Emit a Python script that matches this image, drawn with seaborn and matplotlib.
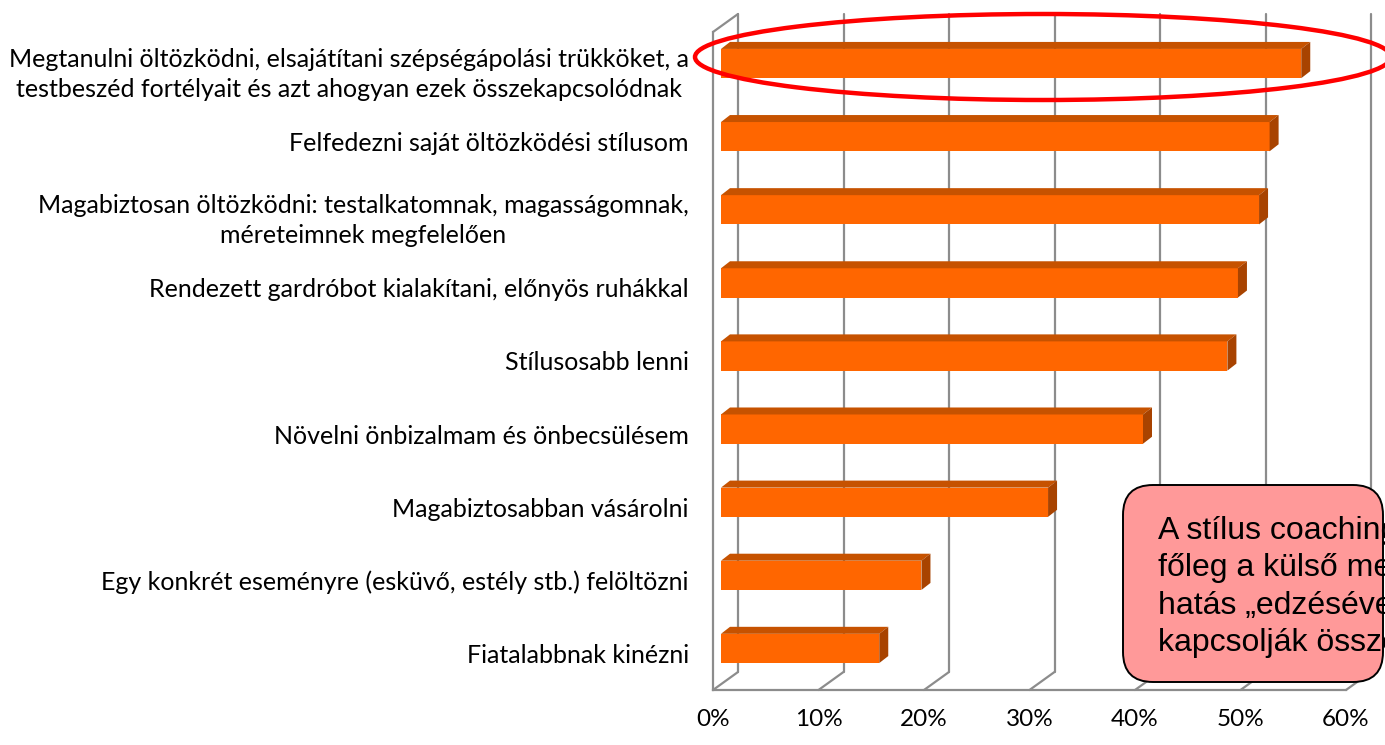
import numpy as np
import pandas as pd
import matplotlib
matplotlib.use("Agg")
import matplotlib.pyplot as plt
import matplotlib.transforms as mtransforms
from matplotlib.patches import Polygon, Ellipse, FancyBboxPatch
from matplotlib.ticker import PercentFormatter
import seaborn as sns

# --- data ---
categories = [
    "Megtanulni öltözködni, elsajátítani szépségápolási trükköket, a\n"
    "testbeszéd fortélyait és azt ahogyan ezek összekapcsolódnak",
    "Felfedezni saját öltözködési stílusom",
    "Magabiztosan öltözködni: testalkatomnak, magasságomnak,\n"
    "méreteimnek megfelelően",
    "Rendezett gardróbot kialakítani, előnyös ruhákkal",
    "Stílusosabb lenni",
    "Növelni önbizalmam és önbecsülésem",
    "Magabiztosabban vásárolni",
    "Egy konkrét eseményre (esküvő, estély stb.) felöltözni",
    "Fiatalabbnak kinézni",
]
values = [0.55, 0.52, 0.51, 0.49, 0.48, 0.40, 0.31, 0.19, 0.15]
x_ticks = [0.0, 0.1, 0.2, 0.3, 0.4, 0.5, 0.6]
callout_lines = [
    "A stílus coachingot",
    "főleg a külső megjelenés",
    "hatás „edzésével”",
    "kapcsolják össze",
]

# --- geometry (pixels) ---
W, H = 1385, 745
AX_LEFT, AX_TOP, AX_BOTTOM = 713, 32, 690
PX_PER_UNIT = 1055          # pixels for 100 %
XMAX = 0.6
N = len(categories)
CAT_PX = (AX_BOTTOM - AX_TOP) / N
WALL_DX, WALL_DY = 25, 18   # depth of the back wall
BAR_DX, BAR_DY = 8, 5       # bar front face shift
TOP_DX, TOP_DY = 9, 7       # bar depth

GREY = "#8C8C8C"
FRONT = "#FF6600"
TOPC = "#C65200"
SIDEC = "#A84300"

sns.set_style("white")
plt.rcParams["font.family"] = ["Lato", "DejaVu Sans"]
plt.rcParams["text.color"] = "black"
plt.rcParams["xtick.labelcolor"] = "black"
plt.rcParams["ytick.labelcolor"] = "black"

fig = plt.figure(figsize=(W / 100, H / 100), dpi=100)
ax = fig.add_axes([AX_LEFT / W, (H - AX_BOTTOM) / H,
                   XMAX * PX_PER_UNIT / W, (AX_BOTTOM - AX_TOP) / H])

df = pd.DataFrame({"item": categories, "value": values})
sns.barplot(data=df, x="value", y="item", orient="h", color=FRONT,
            saturation=1, width=0.40, linewidth=0, ax=ax, zorder=3)

ax.set_xlim(0, XMAX)
ax.set_ylim(N - 0.5, -0.5)

gdx = WALL_DX / PX_PER_UNIT
gdy = WALL_DY / CAT_PX
tdx = TOP_DX / PX_PER_UNIT
tdy = TOP_DY / CAT_PX

# back wall, floor lines
for t in x_ticks:
    ax.plot([t + gdx, t + gdx], [N - 0.5 - gdy, -0.5 - gdy], color=GREY,
            lw=1.6, clip_on=False, zorder=1)
    ax.plot([t, t + gdx], [N - 0.5, N - 0.5 - gdy], color=GREY,
            lw=1.6, clip_on=False, zorder=1)
ax.plot([0, gdx], [-0.5, -0.5 - gdy], color=GREY, lw=1.6,
        clip_on=False, zorder=1)

# 3D look for bars
shift = mtransforms.offset_copy(ax.transData, fig=fig, x=BAR_DX, y=BAR_DY,
                                units="dots")
for p in list(ax.patches):
    p.set_transform(shift)
    x0 = p.get_x()
    x1 = x0 + p.get_width()
    yt = p.get_y()
    yb = yt + p.get_height()
    top = [(x0, yt), (x1, yt), (x1 + tdx, yt - tdy), (x0 + tdx, yt - tdy)]
    side = [(x1, yt), (x1 + tdx, yt - tdy), (x1 + tdx, yb - tdy), (x1, yb)]
    ax.add_patch(Polygon(top, closed=True, facecolor=TOPC, lw=0,
                         transform=shift, clip_on=False, zorder=3))
    ax.add_patch(Polygon(side, closed=True, facecolor=SIDEC, lw=0,
                         transform=shift, clip_on=False, zorder=3))

# axes styling
for s in ["top", "right"]:
    ax.spines[s].set_visible(False)
for s in ["left", "bottom"]:
    ax.spines[s].set_color(GREY)
    ax.spines[s].set_linewidth(1.6)
    ax.spines[s].set_zorder(2)

ax.set_xticks(x_ticks)
ax.xaxis.set_major_formatter(PercentFormatter(1.0, decimals=0))
ax.tick_params(axis="x", direction="out", length=7, width=1.6, color=GREY,
               labelsize=17.5, pad=7)
ax.set_yticks(np.arange(-0.5, N, 1.0), labels=[""] * (N + 1))
ax.set_yticks(np.arange(N), labels=categories, minor=True)
ax.tick_params(axis="y", which="major", direction="out", length=7, width=1.6,
               color=GREY)
ax.tick_params(axis="y", which="minor", length=0, pad=17.5, labelsize=18)
for lab in ax.get_yticklabels(minor=True):
    lab.set_multialignment("center")
    lab.set_linespacing(1.4)
ax.set_xlabel("")
ax.set_ylabel("")

# red highlight ellipse
fig.add_artist(Ellipse((1043 / W, (H - 57) / H), 696 / W, 86 / H,
                       transform=fig.transFigure, fill=False,
                       edgecolor="#FF0000", lw=3.2, zorder=10))

# callout box
px = mtransforms.IdentityTransform()
fig.add_artist(FancyBboxPatch((1123, H - 682), 260, 197,
                              boxstyle="round,pad=0,rounding_size=30",
                              transform=px, facecolor="#FF9999",
                              edgecolor="black", lw=1.4, zorder=11))
fig.text(1158 / W, (H - 587) / H, "\n".join(callout_lines),
         ha="left", va="center", fontsize=23, linespacing=1.33,
         color="black", family=["Liberation Sans", "DejaVu Sans"], zorder=12)

fig.savefig("out.png", dpi=100)
